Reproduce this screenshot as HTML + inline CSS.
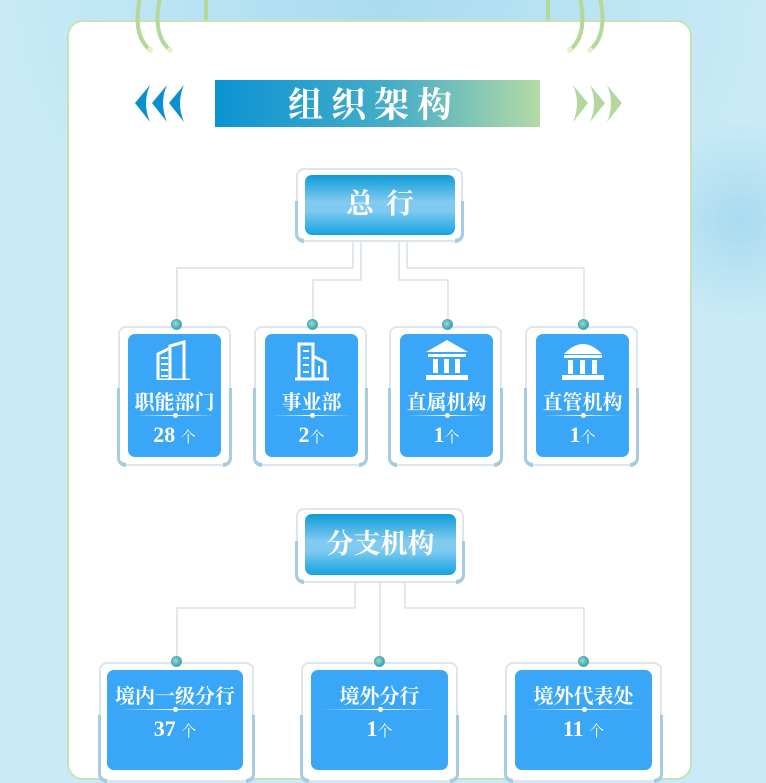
<!DOCTYPE html>
<html><head><meta charset="utf-8"><style>
*{margin:0;padding:0;box-sizing:border-box}
body{width:766px;height:735px;overflow:hidden;position:relative;background:#c9eaf6;font-family:"Liberation Serif","Noto Serif CJK SC",serif}
.abs{position:absolute}
.card{left:67px;top:20px;width:625px;height:760px;background:#fff;border:2px solid #c8e2b8;border-radius:16px}
.outer{position:absolute;border:2px solid #dde6ec;border-radius:8px;background:#fff}
.outer:before,.outer:after{content:"";position:absolute;bottom:-3px;width:6px;height:55%;border-bottom:4px solid #a7cbe0}
.outer:before{left:-3px;border-left:3px solid #a7cbe0;border-bottom-left-radius:10px}
.outer:after{right:-3px;border-right:3px solid #a7cbe0;border-bottom-right-radius:10px}
.hdr{position:absolute;border-radius:7px;background:linear-gradient(#0e9ad8,#82cbef 45%,#7fcaf0 60%,#14a3e1);color:#fff;text-align:center;font-weight:bold}
.box{position:absolute;background:#3aa6f8;border-radius:7px;color:#fff;text-align:center}
.lbl{position:absolute;left:0;right:0;font-size:20px;font-weight:bold}
.ul{position:absolute;left:8%;right:8%;height:1px;background:linear-gradient(90deg,transparent,#fff,transparent)}
.ul:after{content:"";position:absolute;left:50%;top:-2px;width:5px;height:5px;margin-left:-2px;border-radius:50%;background:#fff}
.cnt{position:absolute;left:0;right:0;font-size:22px;font-weight:bold}
.cnt small{font-size:15px;font-weight:normal}
.dot{position:absolute;width:11px;height:11px;border-radius:50%;background:radial-gradient(circle at 40% 40%,#8fe0df,#1c8f98);border:1px solid #5aa;}
</style></head><body>
<div class="abs" style="left:640px;top:120px;width:200px;height:200px;border-radius:50%;background:radial-gradient(#a9dbef,transparent 70%)"></div>
<div class="abs" style="left:0;top:0;width:766px;height:300px;background:radial-gradient(ellipse 380px 300px at 383px 0,#a9dcee,transparent)"></div>
<div class="abs card"></div>
<svg class="abs" style="left:0;top:0" width="766" height="60">
<g fill="none" stroke="#b4d89a" stroke-width="4" stroke-linecap="round">
<path d="M140 -2 Q132 35 150 50"/><path d="M160 -2 Q152 35 170 50"/><path d="M206 -2 L206 18"/><path d="M120 -2 L120 20" opacity="0"/>
<path d="M580 -2 Q588 35 570 50"/><path d="M600 -2 Q608 35 590 50"/><path d="M548 -2 L548 18"/>
</g>
<g fill="#e6f2c9"><circle cx="150" cy="50" r="3"/><circle cx="170" cy="50" r="3"/><circle cx="570" cy="50" r="3"/><circle cx="590" cy="50" r="3"/></g>
</svg>
<svg class="abs" style="left:0;top:0" width="766" height="735">
<defs><linearGradient id="tg" x1="0" x2="1"><stop offset="0" stop-color="#0a94d3"/><stop offset=".55" stop-color="#47adc8"/><stop offset="1" stop-color="#b3daa6"/></linearGradient></defs>
<rect x="215" y="80" width="325" height="47" fill="url(#tg)"/>
<g fill="#0b8fcf"><path d="M135 103 L150 85 Q142 103 150 122Z"/><path d="M152 103 L167 85 Q159 103 167 122Z"/><path d="M169 103 L184 85 Q176 103 184 122Z"/></g>
<g fill="#b3d79f"><path d="M622 103 L607 85 Q615 103 607 122Z"/><path d="M605 103 L590 85 Q598 103 590 122Z"/><path d="M588 103 L573 85 Q581 103 573 122Z"/></g>
<g fill="none" stroke="#d8e0e6" stroke-width="1.5">
<path d="M353 242 V268 H177 V322"/><path d="M361 242 V280 H313 V322"/><path d="M399 242 V280 H448 V322"/><path d="M407 242 V268 H584 V322"/>
<path d="M355 583 V608 H177 V658"/><path d="M380 583 V658"/><path d="M405 583 V608 H584 V658"/>
</g>
<text x="374" y="117" fill="#fff" font-size="35" font-weight="bold" text-anchor="middle" letter-spacing="8" font-family="Liberation Serif,Noto Serif CJK SC,serif">组织架构</text>
</svg>

<div class="outer" style="left:296px;top:168px;width:167px;height:74px"></div>
<div class="hdr" style="left:305px;top:175px;width:150px;height:60px;font-size:28px;line-height:60px;letter-spacing:12px;padding-left:12px">总行</div>

<div class="outer" style="left:118px;top:326px;width:113px;height:140px"></div>
<div class="outer" style="left:254px;top:326px;width:113px;height:140px"></div>
<div class="outer" style="left:389px;top:326px;width:113px;height:140px"></div>
<div class="outer" style="left:525px;top:326px;width:113px;height:140px"></div>

<div class="box" style="left:128px;top:334px;width:93px;height:123px">
<svg style="position:absolute;left:26px;top:6px" width="40" height="40" fill="none" stroke="#fff" stroke-width="3"><path d="M4 40 V14 L16 8 V40 M16 40 V6 L30 2 V40 M4 40 H36"/><path d="M7 18h7M7 24h7M7 30h7M7 36h7" stroke-width="2"/></svg>
<div class="lbl" style="top:52px">职能部门</div><div class="ul" style="top:81px"></div><div class="cnt" style="top:88px">28 <small>个</small></div></div>
<div class="box" style="left:265px;top:334px;width:93px;height:123px">
<svg style="position:absolute;left:28px;top:8px" width="40" height="40" fill="none" stroke="#fff" stroke-width="3"><path d="M6 36 V2 H20 V36 M20 14 L32 20 V36 M2 37 H36"/><path d="M10 9h6M10 16h6M10 23h6M10 30h6M26 24v8" stroke-width="2"/></svg>
<div class="lbl" style="top:52px">事业部</div><div class="ul" style="top:81px"></div><div class="cnt" style="top:88px">2<small>个</small></div></div>
<div class="box" style="left:400px;top:334px;width:93px;height:123px">
<svg style="position:absolute;left:24px;top:4px" width="46" height="46" fill="#fff"><path d="M23 2 L44 14 H2Z"/><rect x="4" y="16" width="38" height="3"/><rect x="9" y="21" width="5" height="14"/><rect x="20" y="21" width="5" height="14"/><rect x="31" y="21" width="5" height="14"/><rect x="2" y="37" width="42" height="5"/></svg>
<div class="lbl" style="top:52px">直属机构</div><div class="ul" style="top:81px"></div><div class="cnt" style="top:88px">1<small>个</small></div></div>
<div class="box" style="left:536px;top:334px;width:93px;height:123px">
<svg style="position:absolute;left:24px;top:4px" width="46" height="46" fill="#fff"><path d="M4 16 Q23 -4 42 16Z"/><rect x="4" y="17" width="38" height="3"/><rect x="8" y="22" width="5" height="14"/><rect x="20" y="22" width="5" height="14"/><rect x="32" y="22" width="5" height="14"/><rect x="2" y="37" width="42" height="5"/></svg>
<div class="lbl" style="top:52px">直管机构</div><div class="ul" style="top:81px"></div><div class="cnt" style="top:88px">1<small>个</small></div></div>

<div class="dot" style="left:171px;top:319px"></div><div class="dot" style="left:307px;top:319px"></div><div class="dot" style="left:442px;top:319px"></div><div class="dot" style="left:578px;top:319px"></div>

<div class="outer" style="left:296px;top:508px;width:168px;height:75px"></div>
<div class="hdr" style="left:305px;top:514px;width:151px;height:61px;font-size:27px;line-height:61px">分支机构</div>

<div class="outer" style="left:99px;top:662px;width:155px;height:120px"></div>
<div class="outer" style="left:301px;top:662px;width:157px;height:120px"></div>
<div class="outer" style="left:505px;top:662px;width:157px;height:120px"></div>
<div class="box" style="left:107px;top:670px;width:136px;height:100px"><div class="lbl" style="top:10px">境内一级分行</div><div class="ul" style="top:39px"></div><div class="cnt" style="top:46px">37 <small>个</small></div></div>
<div class="box" style="left:311px;top:670px;width:137px;height:100px"><div class="lbl" style="top:10px">境外分行</div><div class="ul" style="top:39px"></div><div class="cnt" style="top:46px">1<small>个</small></div></div>
<div class="box" style="left:515px;top:670px;width:137px;height:100px"><div class="lbl" style="top:10px">境外代表处</div><div class="ul" style="top:39px"></div><div class="cnt" style="top:46px">11 <small>个</small></div></div>
<div class="dot" style="left:171px;top:656px"></div><div class="dot" style="left:374px;top:656px"></div><div class="dot" style="left:578px;top:656px"></div>
</body></html>
